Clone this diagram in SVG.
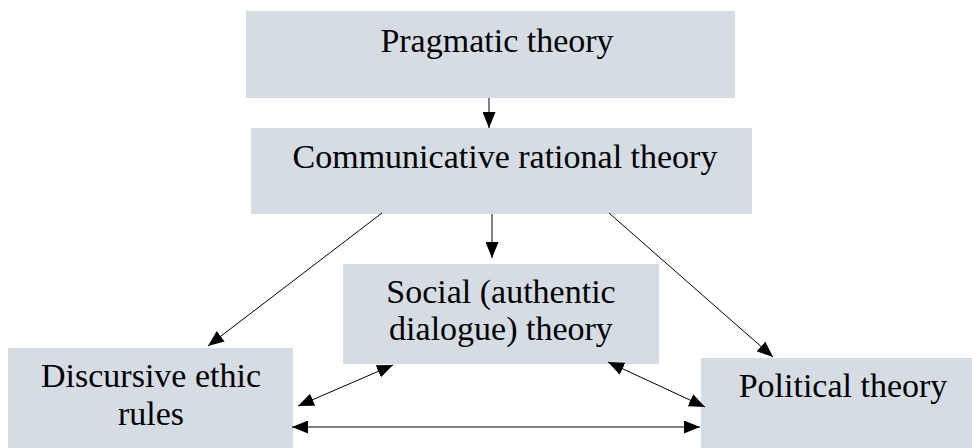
<svg xmlns="http://www.w3.org/2000/svg" width="972" height="448" viewBox="0 0 972 448">
<defs>
<style>
.box{fill:#d5dce4;}
.t{font-family:"Liberation Serif","DejaVu Serif",serif;font-size:34px;fill:#000;text-anchor:middle;}
.c{stroke:#000;stroke-width:1;fill:none;}
</style>
<marker id="ah" viewBox="0 0 16 13" refX="16" refY="6.5" markerWidth="16" markerHeight="13" markerUnits="userSpaceOnUse" orient="auto-start-reverse">
<path d="M0,0 L16,6.5 L0,13 Z" fill="#000"/>
</marker>
</defs>
<rect width="972" height="448" fill="#fff"/>
<g id="pragmatic"><rect class="box" x="246" y="11" width="489" height="87"/><text class="t" x="497" y="52">Pragmatic theory</text></g>
<g id="communicative"><rect class="box" x="251" y="128" width="501" height="86"/><text class="t" x="505" y="168">Communicative rational theory</text></g>
<g id="social"><rect class="box" x="343" y="264" width="316" height="100"/><text class="t" x="501" y="303">Social (authentic</text><text class="t" x="501" y="340">dialogue) theory</text></g>
<g id="discursive"><rect class="box" x="8" y="348" width="285" height="100"/><text class="t" x="151" y="387">Discursive ethic</text><text class="t" x="151" y="425">rules</text></g>
<g id="political"><rect class="box" x="701" y="358" width="271" height="90"/><text class="t" x="843" y="397">Political theory</text></g>
<g id="connectors">
<line class="c" x1="489" y1="98" x2="489" y2="128" marker-end="url(#ah)"/>
<line class="c" x1="492" y1="214" x2="492" y2="258" marker-end="url(#ah)"/>
<line class="c" x1="382" y1="213" x2="208" y2="346" marker-end="url(#ah)"/>
<line class="c" x1="609" y1="213" x2="773" y2="357" marker-end="url(#ah)"/>
<line class="c" x1="298" y1="406" x2="393" y2="365" marker-start="url(#ah)" marker-end="url(#ah)"/>
<line class="c" x1="608" y1="362" x2="705" y2="407" marker-start="url(#ah)" marker-end="url(#ah)"/>
<line class="c" x1="292" y1="427" x2="700" y2="427" marker-start="url(#ah)" marker-end="url(#ah)"/>
</g>
</svg>
